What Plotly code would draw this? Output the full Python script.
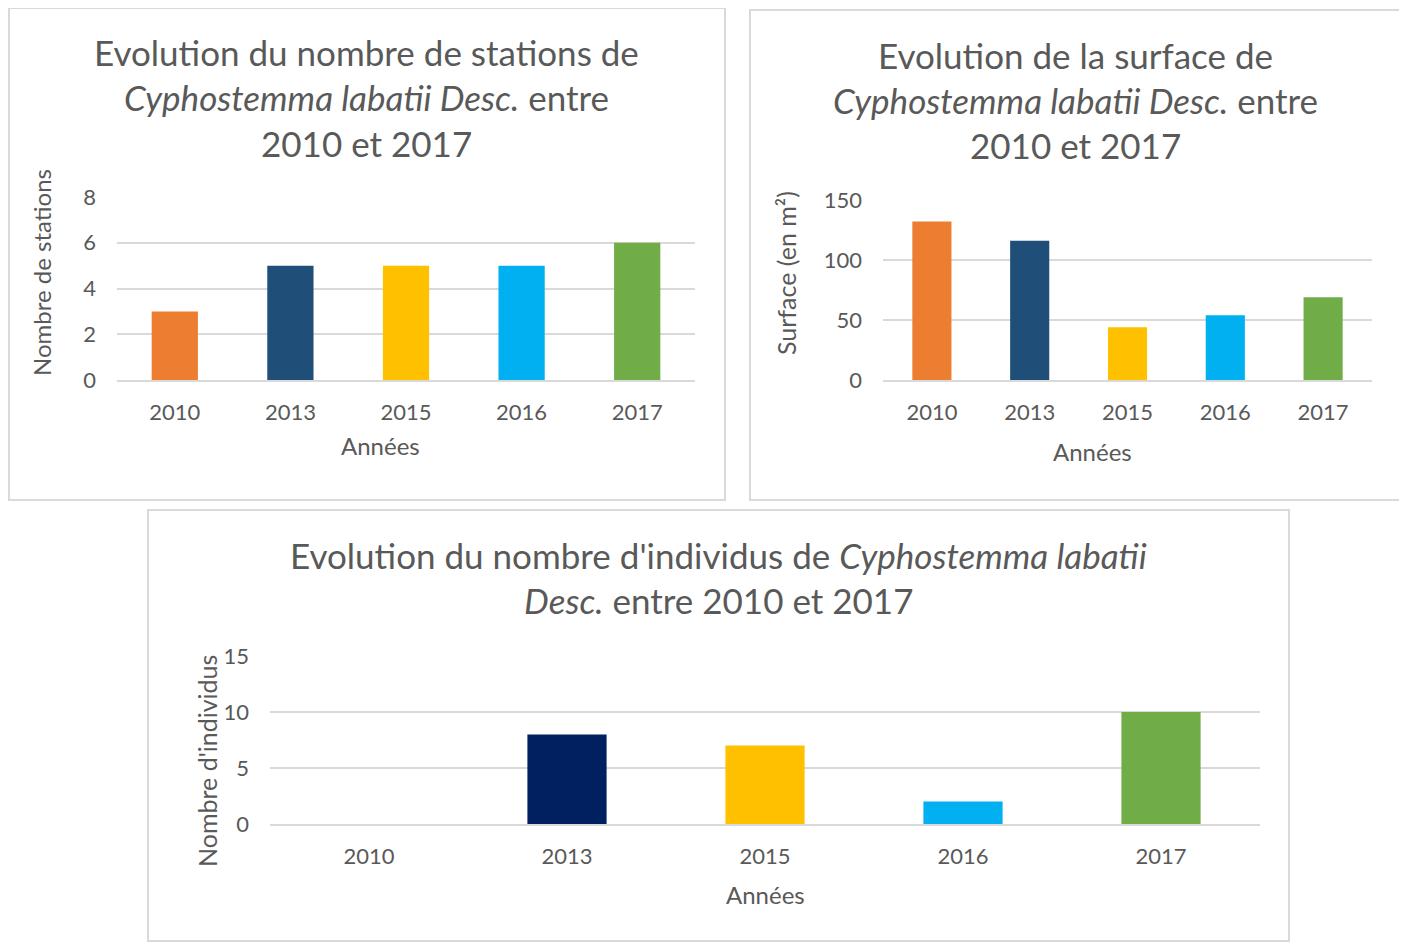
import plotly.graph_objects as go

# page offset (browser body margin) and figure size
OFF = 8
W, H = 1407 - OFF, 942 - OFF

years = ["2010", "2013", "2015", "2016", "2017"]
stations = [3, 5, 5, 5, 6]
surface = [132, 116, 44, 54, 69]
individus = [0, 8, 7, 2, 10]

colors_top = ["#ED7D31", "#1F4E79", "#FFC000", "#00B0F0", "#70AD47"]
colors_bottom = ["#ED7D31", "#002060", "#FFC000", "#00B0F0", "#70AD47"]

TXT = "#595959"
GRID = "#D9D9D9"
FONT = "Lato"


def px(x):
    return (x - OFF) / W


def py(y):
    return 1 - (y - OFF) / H


fig = go.Figure()
fig.add_trace(go.Bar(x=years, y=stations, marker=dict(color=colors_top, line=dict(width=0)),
                     xaxis="x", yaxis="y", showlegend=False))
fig.add_trace(go.Bar(x=years, y=surface, marker=dict(color=colors_top, line=dict(width=0)),
                     xaxis="x2", yaxis="y2", showlegend=False))
fig.add_trace(go.Bar(x=years, y=individus, marker=dict(color=colors_bottom, line=dict(width=0)),
                     xaxis="x3", yaxis="y3", showlegend=False))

tickfont = dict(family=FONT, size=22, color=TXT)


def xax(d0, d1, anchor):
    return dict(domain=[px(d0), px(d1)], anchor=anchor, type="category",
                showgrid=False, showline=True, linecolor=GRID, linewidth=1.5,
                ticks="", tickfont=tickfont, ticklabelstandoff=12, fixedrange=True,
                automargin=False)


def yax(d0, d1, anchor, rng, dtick):
    return dict(domain=[py(d1), py(d0)], anchor=anchor, range=rng, dtick=dtick,
                showgrid=True, gridcolor=GRID, gridwidth=1.5, zeroline=False,
                showline=False, ticks="", tickfont=tickfont, ticklabelstandoff=20,
                fixedrange=True, automargin=False)


fig.update_layout(
    width=W, height=H,
    margin=dict(l=0, r=0, t=0, b=0, pad=0),
    paper_bgcolor="white", plot_bgcolor="white",
    bargap=0.6,
    xaxis=xax(117, 695, "y"),
    yaxis=yax(197, 380, "x", [0, 8], 2),
    xaxis2=xax(883, 1372, "y2"),
    yaxis2=yax(200, 380, "x2", [0, 150], 50),
    xaxis3=xax(270, 1260, "y3"),
    yaxis3=yax(656, 824, "x3", [0, 15], 5),
)

# Panel borders
for (x0, y0, x1, y1) in [(9, 8, 725, 500), (750, 10, 1401, 500), (148, 510, 1289, 941)]:
    fig.add_shape(type="rect", xref="paper", yref="paper",
                  x0=px(x0), x1=px(x1), y0=py(y1), y1=py(y0),
                  line=dict(color=GRID, width=2), fillcolor="rgba(0,0,0,0)")


def text(x, y, s, size, angle=0):
    fig.add_annotation(x=px(x), y=py(y), xref="paper", yref="paper", text=s,
                       showarrow=False, textangle=angle, xanchor="center", yanchor="middle",
                       font=dict(family=FONT, size=size, color=TXT))


TS = 35
# Titles
text(366, 52, "Evolution du nombre de stations de", TS)
text(366, 97, "<i>Cyphostemma labatii Desc.</i> entre", TS)
text(366, 143, "2010 et 2017", TS)

text(1075, 55, "Evolution de la surface de", TS)
text(1075, 100, "<i>Cyphostemma labatii Desc.</i> entre", TS)
text(1075, 145, "2010 et 2017", TS)

text(718, 555, "Evolution du nombre d'individus de <i>Cyphostemma labatii</i>", TS)
text(718, 600, "<i>Desc.</i> entre 2010 et 2017", TS)

# Axis titles
AS = 24
text(380, 445, "Années", AS)
text(42, 273, "Nombre de stations", AS, -90)
text(1092, 451, "Années", AS)
text(786, 273, "Surface (en m²)", 25, -90)
text(765, 894, "Années", AS)
text(207, 761, "Nombre d'individus", 25, -90)

fig.write_html("out.html")
